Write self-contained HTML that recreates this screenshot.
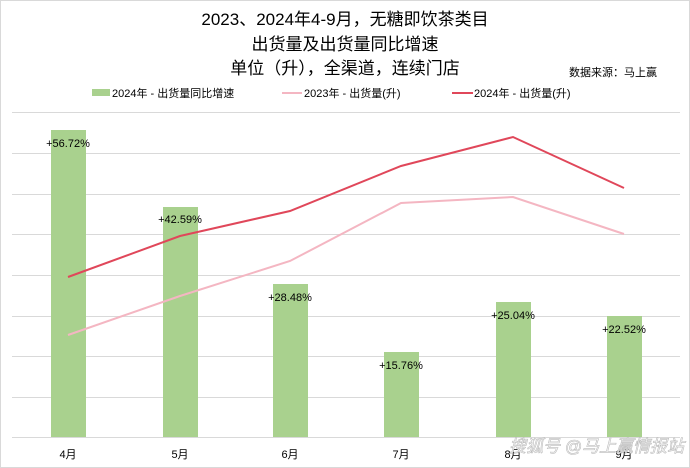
<!DOCTYPE html>
<html><head><meta charset="utf-8"><style>
body{margin:0;background:#fff;}
svg{display:block;font-family:"Liberation Sans","Noto Sans CJK SC",sans-serif;}
</style></head><body>
<svg width="690" height="468" viewBox="0 0 690 468">
<rect x="0.5" y="0.5" width="689" height="467" fill="#fff" stroke="#d9d9d9"/>
<g font-size="17" text-anchor="middle" fill="#000">
<text x="345" y="25">2023、2024年4-9月，无糖即饮茶类目</text>
<text x="345" y="50">出货量及出货量同比增速</text>
<text x="345" y="74">单位（升），全渠道，连续门店</text>
</g>
<text x="613" y="76" font-size="11" text-anchor="middle">数据来源：马上赢</text>
<g font-size="11">
<rect x="92" y="89" width="18" height="7" fill="#a9d18e"/><text x="112" y="97">2024年 - 出货量同比增速</text>
<line x1="282" y1="93" x2="302" y2="93" stroke="#f4b6c2" stroke-width="2"/><text x="304" y="97">2023年 -  出货量(升)</text>
<line x1="452" y1="93" x2="473" y2="93" stroke="#e0475a" stroke-width="2"/><text x="474" y="97">2024年 -  出货量(升)</text>
</g>
<g stroke="#d9d9d9" stroke-width="1">
<line x1="12" y1="112.5" x2="680" y2="112.5"/>
<line x1="12" y1="153.5" x2="680" y2="153.5"/>
<line x1="12" y1="194.5" x2="680" y2="194.5"/>
<line x1="12" y1="234.5" x2="680" y2="234.5"/>
<line x1="12" y1="275.5" x2="680" y2="275.5"/>
<line x1="12" y1="316.5" x2="680" y2="316.5"/>
<line x1="12" y1="356.5" x2="680" y2="356.5"/>
<line x1="12" y1="397.5" x2="680" y2="397.5"/>
<line x1="12" y1="437.5" x2="680" y2="437.5"/>
</g>
<g fill="#a9d18e">
<rect x="51" y="130" width="35" height="307"/>
<rect x="163" y="207" width="35" height="230"/>
<rect x="273" y="284" width="35" height="153"/>
<rect x="384" y="352" width="35" height="85"/>
<rect x="496" y="302" width="35" height="135"/>
<rect x="607" y="316" width="35" height="121"/>
</g>
<polyline points="68,335 180,296 290,261 401,203 513,197 624,234" fill="none" stroke="#f4b6c2" stroke-width="2"/>
<polyline points="68,277 180,236 290,211 401,166 513,137 624,188" fill="none" stroke="#e0475a" stroke-width="2"/>
<g font-size="11" text-anchor="middle" fill="#000">
<text x="68" y="147">+56.72%</text>
<text x="180" y="223">+42.59%</text>
<text x="290" y="301">+28.48%</text>
<text x="401" y="369">+15.76%</text>
<text x="513" y="319">+25.04%</text>
<text x="624" y="333">+22.52%</text>
</g>
<g font-size="11" text-anchor="middle" fill="#000">
<text x="68" y="458">4月</text><text x="180" y="458">5月</text><text x="290" y="458">6月</text>
<text x="401" y="458">7月</text><text x="513" y="458">8月</text><text x="624" y="458">9月</text>
</g>
<text x="684" y="452" font-size="17" text-anchor="end" fill="#fff" stroke="#bbb" stroke-width="0.6" font-style="italic">搜狐号 @马上赢情报站</text>
</svg>
</body></html>
